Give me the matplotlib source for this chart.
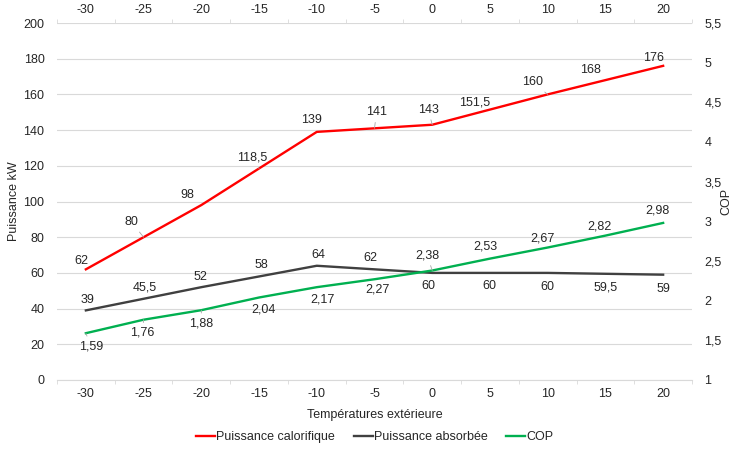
import matplotlib.pyplot as plt
from matplotlib.ticker import FixedLocator, FuncFormatter

plt.rcParams['font.family'] = ['Liberation Sans', 'DejaVu Sans']

# Températures extérieures et performances
temperatures = [-30, -25, -20, -15, -10, -5, 0, 5, 10, 15, 20]
p_calorifique = [62, 80, 98, 118.5, 139, 141, 143, 151.5, 160, 168, 176]
p_absorbee = [39, 45.5, 52, 58, 64, 62, 60, 60, 60, 59.5, 59]
cop = [1.59, 1.76, 1.88, 2.04, 2.17, 2.27, 2.38, 2.53, 2.67, 2.82, 2.98]

# décalage des étiquettes (pixels) et traits de rappel
off_cal = [(-4, 8), (-12, 15), (-14, 10), (-7, 11), (-5, 12), (2, 16), (-4, 15),
           (-15, 7), (-15, 12), (-15, 10), (-10, 8)]
lead_cal = [1, 3, 5, 6, 8]
off_abs = [(2, 10), (1, 11), (-1, 10), (2, 11), (2, 11), (-4, 11), (-4, -13),
           (-1, -13), (0, -14), (0, -14), (0, -14)]
off_cop = [(5, -13), (-1, -13), (0, -13), (4, -12), (6, -12), (3, -10), (-5, 15),
           (-5, 12), (-5, 9), (-6, 9), (-6, 12)]
lead_cop = [0, 1, 2, 6]

RED = '#ff0000'
GREY = '#404040'
GREEN = '#00b050'
TXT = '#262626'
FS = 9


def fr(v):
    s = ('%g' % v)
    return s.replace('.', ',')


fig = plt.figure(figsize=(7.33, 4.5), dpi=100)
ax = fig.add_axes([57 / 733, 70 / 450, 635 / 733, 357 / 450])
ax2 = ax.twinx()

x = list(range(len(temperatures)))
l1, = ax.plot(x, p_calorifique, color=RED, lw=1.7, label='Puissance calorifique')
l2, = ax.plot(x, p_absorbee, color=GREY, lw=1.7, label='Puissance absorbée')
l3, = ax2.plot(x, cop, color=GREEN, lw=1.7, label='COP')

ax.set_xlim(-0.5, len(x) - 0.5)
ax.set_ylim(0, 200)
ax2.set_ylim(1, 5.5)
ax.set_yticks(range(0, 201, 20))
ax2.set_yticks([1, 1.5, 2, 2.5, 3, 3.5, 4, 4.5, 5, 5.5])
ax2.yaxis.set_major_formatter(FuncFormatter(lambda v, p: fr(v)))

ax.grid(axis='y', color='#d9d9d9', lw=0.8)
ax.set_axisbelow(True)
for a in (ax, ax2):
    for s in a.spines.values():
        s.set_visible(False)
ax.spines['bottom'].set_visible(True)
ax.spines['bottom'].set_color('#d9d9d9')

# axe des catégories, en bas et en haut
ax.set_xticks(x)
ax.set_xticklabels([str(t) for t in temperatures])
ax.xaxis.set_minor_locator(FixedLocator([i - 0.5 for i in range(len(x) + 1)]))
ax.tick_params(axis='x', which='major', length=0, pad=6, labelsize=FS, colors=TXT)
ax.tick_params(axis='x', which='minor', length=3, color='#d9d9d9')
ax.tick_params(axis='y', length=0, pad=9, labelsize=FS, colors=TXT)
ax2.tick_params(axis='y', length=0, pad=9, labelsize=FS, colors=TXT)

top = ax.secondary_xaxis('top')
top.set_xticks(x)
top.set_xticklabels([str(t) for t in temperatures])
top.xaxis.set_minor_locator(FixedLocator([i - 0.5 for i in range(len(x) + 1)]))
top.tick_params(axis='x', which='major', length=0, pad=5, labelsize=FS, colors=TXT)
top.tick_params(axis='x', which='minor', length=3, color='#d9d9d9')
top.spines['top'].set_visible(False)

ax.set_xlabel('Températures extérieure', fontsize=FS, color=TXT, labelpad=6)
ax.set_ylabel('Puissance kW', fontsize=FS, color=TXT)
ax.yaxis.set_label_coords(-37 / 635, 0.5)
ax2.set_ylabel('COP', fontsize=FS, color=TXT, rotation=90)
ax2.yaxis.set_label_coords(1 + 28 / 635, 0.5)


def labels(a, vals, offs, leads):
    for i, (v, o) in enumerate(zip(vals, offs)):
        kw = {}
        if i in leads:
            kw['arrowprops'] = dict(arrowstyle='-', color='#a6a6a6', lw=0.6,
                                    shrinkA=1, shrinkB=0)
        a.annotate(fr(v), (x[i], v), xytext=o, textcoords='offset pixels',
                   ha='center', va='center', fontsize=FS, color=TXT, **kw)


labels(ax, p_calorifique, off_cal, lead_cal)
labels(ax, p_absorbee, off_abs, [])
labels(ax2, cop, off_cop, lead_cop)

fig.legend(handles=[l1, l2, l3], loc='center', bbox_to_anchor=(375 / 733, 1 - 437 / 450),
           ncol=3, frameon=False, fontsize=FS, handlelength=1.5, handletextpad=0.1,
           columnspacing=1.5, labelcolor=TXT)

fig.savefig('out.png', dpi=100)
